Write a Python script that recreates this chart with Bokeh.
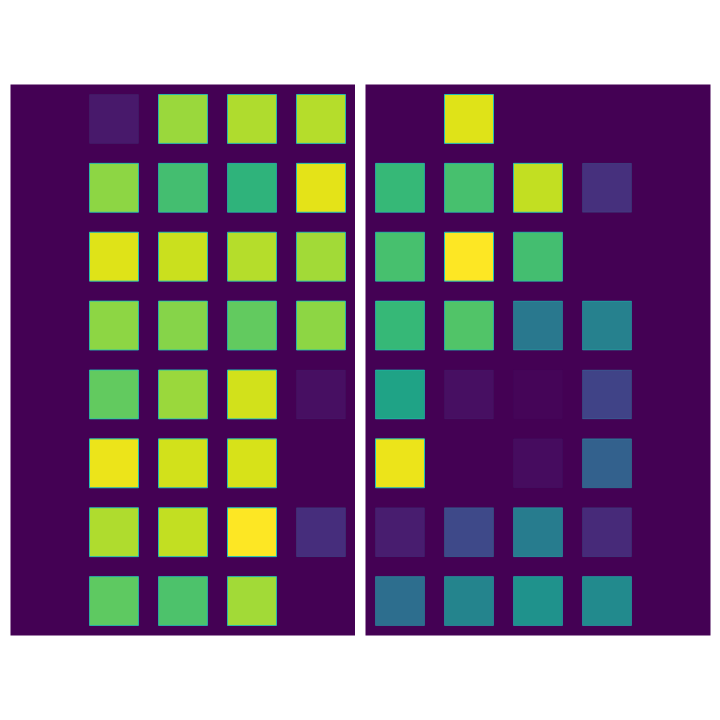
from bokeh.plotting import figure
from bokeh.models import ColumnDataSource, Range1d
from bokeh.layouts import row
from bokeh.transform import linear_cmap
from bokeh.palettes import Viridis256
from bokeh.embed import file_html
from bokeh.resources import INLINE

# rows listed top to bottom, columns left to right; None = empty cell
left_values = [
    [None, 0.07, 0.85, 0.88, 0.89],
    [None, 0.83, 0.70, 0.65, 0.96],
    [None, 0.95, 0.92, 0.89, 0.86],
    [None, 0.83, 0.82, 0.76, 0.83],
    [None, 0.76, 0.85, 0.93, 0.04],
    [None, 0.97, 0.93, 0.94, None],
    [None, 0.88, 0.91, 1.00, 0.13],
    [None, 0.75, 0.72, 0.86, None],
]
right_values = [
    [None, 0.95, None, None, None],
    [0.67, 0.71, 0.91, 0.14, None],
    [0.71, 1.00, 0.70, None, None],
    [0.67, 0.73, 0.40, 0.44, None],
    [0.58, 0.04, 0.015, 0.20, None],
    [0.97, None, 0.035, 0.31, None],
    [0.08, 0.22, 0.42, 0.12, None],
    [0.36, 0.45, 0.51, 0.48, None],
]
n_cols = 5
n_rows = 8


def build_source(values):
    xs, ys, vs = [], [], []
    for r, row_vals in enumerate(values):
        for c, v in enumerate(row_vals):
            if v is None:
                continue
            xs.append(c + 0.5)
            ys.append(n_rows - r - 0.5)
            vs.append(v)
    return ColumnDataSource(dict(x=xs, y=ys, v=vs, la=vs))


def panel(values, width, left, right):
    p = figure(width=width, height=720, output_backend="svg", toolbar_location=None,
               x_range=Range1d(0, n_cols), y_range=Range1d(0, n_rows),
               x_axis_location=None, y_axis_location=None,
               min_border_left=left, min_border_right=right,
               min_border_top=84, min_border_bottom=85)
    p.background_fill_color = "#440154"
    p.border_fill_color = "white"
    p.outline_line_color = None
    p.grid.visible = False
    src = build_source(values)
    p.rect(x="x", y="y", width=0.71, height=0.71, source=src,
           fill_color=linear_cmap("v", Viridis256, 0, 1),
           line_color="#1cc4bc", line_alpha="la", line_width=1)
    return p


p1 = panel(left_values, 355, 10, 0)
p2 = panel(right_values, 365, 10, 10)
layout = row(p1, p2)

open("out.html", "w").write(file_html(layout, INLINE))
